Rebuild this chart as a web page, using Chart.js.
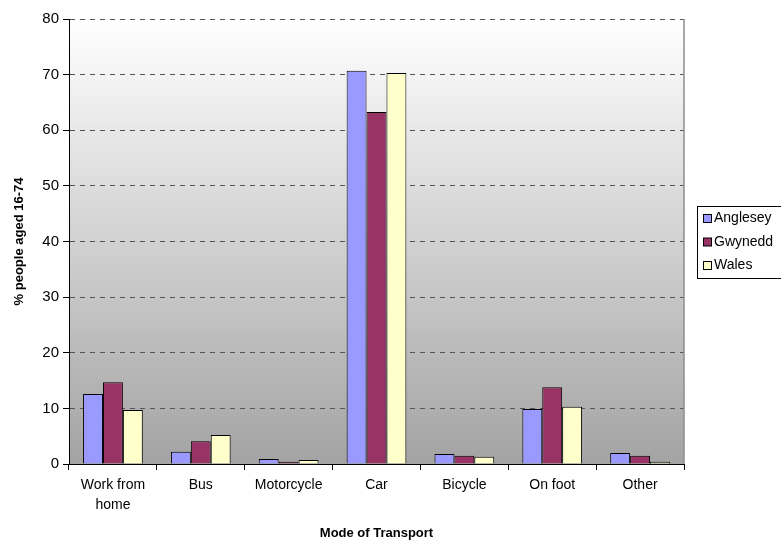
<!DOCTYPE html>
<html>
<head>
<meta charset="utf-8">
<script src="https://cdn.jsdelivr.net/npm/chart.js@4/dist/chart.umd.min.js"></script>
<style>
  html, body { margin: 0; padding: 0; background: #fff; }
  #wrap { width: 781px; height: 541px; position: relative; }
</style>
</head>
<body>
<div id="wrap"><canvas id="chart"></canvas></div>
<script>
// ---- Data --------------------------------------------------
const categories = [['Work from', 'home'], 'Bus', 'Motorcycle', 'Car', 'Bicycle', 'On foot', 'Other'];
const anglesey   = [12.6, 2.2, 0.9, 70.7, 1.8, 9.9, 2.0];
const gwynedd    = [14.7, 4.1, 0.4, 63.3, 1.5, 13.8, 1.5];
const wales      = [9.7, 5.2, 0.7, 70.3, 1.3, 10.3, 0.4];
const yTicks     = [0, 10, 20, 30, 40, 50, 60, 70, 80];

const FONT = 'Arial, "Liberation Sans", sans-serif';

// Gradient plot background + grey right border
const plotBackground = {
  id: 'plotBackground',
  beforeDraw(chart) {
    const { ctx, chartArea: a } = chart;
    const g = ctx.createLinearGradient(0, a.top, 0, a.bottom);
    g.addColorStop(0, '#ffffff');
    g.addColorStop(1, '#a3a3a3');
    ctx.save();
    ctx.fillStyle = g;
    ctx.fillRect(a.left, a.top, a.right - a.left, a.bottom - a.top);
    ctx.restore();
  },
  afterDraw(chart) {
    const { ctx, chartArea: a } = chart;
    ctx.save();
    ctx.strokeStyle = '#8c8c8c';
    ctx.lineWidth = 1.5;
    ctx.beginPath();
    ctx.moveTo(a.right, a.top);
    ctx.lineTo(a.right, a.bottom);
    ctx.stroke();
    ctx.restore();
  }
};

// Boxed legend on the right, Excel style
const boxLegend = {
  id: 'boxLegend',
  afterDraw(chart) {
    const { ctx } = chart;
    const x = 697.5, y = 206.5, w = 100, h = 72;
    ctx.save();
    ctx.fillStyle = '#fff';
    ctx.fillRect(x, y, w, h);
    ctx.strokeStyle = '#000';
    ctx.lineWidth = 1;
    ctx.strokeRect(x, y, w, h);
    ctx.font = '14px ' + FONT;
    ctx.textBaseline = 'middle';
    chart.data.datasets.forEach((ds, i) => {
      const cy = y + 12 + i * 23.5;
      ctx.fillStyle = ds.backgroundColor;
      ctx.fillRect(703.5, cy - 4, 8, 8);
      ctx.strokeRect(703.5, cy - 4, 8, 8);
      ctx.fillStyle = '#000';
      ctx.fillText(ds.label, 714, cy);
    });
    ctx.restore();
  }
};

new Chart(document.getElementById('chart'), {
  type: 'bar',
  data: {
    labels: categories,
    datasets: [
      { label: 'Anglesey', data: anglesey, backgroundColor: '#9999ff' },
      { label: 'Gwynedd',  data: gwynedd,  backgroundColor: '#993366' },
      { label: 'Wales',    data: wales,    backgroundColor: '#ffffcc' }
    ].map(d => Object.assign(d, {
      borderColor: '#000',
      borderWidth: 1,
      categoryPercentage: 0.68,
      barPercentage: 1
    }))
  },
  options: {
    responsive: true,
    maintainAspectRatio: false,
    animation: false,
    devicePixelRatio: 1,
    layout: { padding: { top: 19, right: 97, left: 12, bottom: 0 } },
    plugins: {
      legend: { display: false },
      tooltip: { enabled: false }
    },
    scales: {
      x: {
        grid: { display: true, drawOnChartArea: false, offset: true, color: '#000', tickLength: 6 },
        border: { color: '#000', width: 1 },
        ticks: { color: '#000', font: { family: FONT, size: 14, lineHeight: 1.45 }, maxRotation: 0, padding: 5 },
        title: { display: true, text: 'Mode of Transport', color: '#000',
                 font: { family: FONT, size: 13, weight: 'bold' }, padding: { top: 20, bottom: 0 } },
        afterFit(scale) { scale.height = 77; }
      },
      y: {
        min: 0,
        max: 80,
        afterBuildTicks(scale) { scale.ticks = yTicks.map(v => ({ value: v })); },
        grid: { color: '#555', tickLength: 6, tickBorderDash: [], tickColor: '#000' },
        border: { color: '#000', width: 1, dash: [5, 5] },
        ticks: { color: '#000', font: { family: FONT, size: 15 }, padding: 4 },
        title: { display: true, text: '% people aged 16-74', color: '#000',
                 font: { family: FONT, size: 13, weight: 'bold' }, padding: { top: 0, bottom: 4 } },
        afterFit(scale) { scale.width = 57; }
      }
    }
  },
  plugins: [plotBackground, boxLegend]
});
</script>
</body>
</html>
